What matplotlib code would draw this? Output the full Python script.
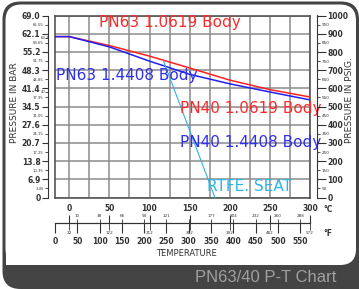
import matplotlib
matplotlib.use("Agg")
from matplotlib import pyplot as plt
from matplotlib.patches import FancyBboxPatch, Rectangle
import matplotlib.ticker as mtick

# ---- data ----
# PN63 / PN40 1.0619 body rating (bar)
temp_red = [-18, 0, 50, 100, 150, 200, 250, 300]
bar_red = [61.0, 61.0, 57.6, 53.6, 49.1, 44.5, 40.9, 38.1]
# PN63 / PN40 1.4408 body rating (bar)
temp_blue = [-18, 0, 50, 100, 150, 200, 250, 300]
bar_blue = [61.0, 61.0, 57.1, 51.7, 46.7, 43.1, 40.0, 37.0]
# RTFE seat limit
temp_seat = [117, 181.5]
bar_seat = [52.1, 0.0]

bar_major = [0, 6.9, 13.8, 20.7, 27.6, 34.5, 41.4, 48.3, 55.2, 62.1, 69.0]
bar_major_lbl = ["0", "6.9", "13.8", "20.7", "27.6", "34.5", "41.4", "48.3", "55.2", "62.1", "69.0"]
bar_minor = [3.45, 10.35, 17.25, 24.15, 31.05, 37.95, 44.85, 51.75, 58.65, 65.55]
bar_minor_lbl = ["3.45", "10.35", "17.25", "24.15", "31.05", "37.95", "44.85",
                 "51.75", "58.65", "65.55"]
# extra PN marks on the bar scale
bar_pn = [60.5, 40.0]
bar_pn_lbl = ["63.2", "40"]
psi_major = [0, 100, 200, 300, 400, 500, 600, 700, 800, 900, 1000]
psi_minor = [50, 150, 250, 350, 450, 550, 650, 750, 850, 950]

c_major = [0, 50, 100, 150, 200, 250, 300]
c_minor = [-17.8, 10, 37.8, 65.6, 93.3, 121.1, 148.9, 176.7, 204.4, 232.2, 260, 287.8]
c_minor_lbl = ["-18", "10", "38", "66", "93", "121", "", "177", "204", "232", "260", "288"]
f_major = [0, 50, 100, 150, 200, 250, 300, 350, 400, 450, 500, 550]
f_minor = [32, 122, 212, 302, 392, 482, 572]

labels = [
    ("PN63 1.0619 Body", 125.5, 66.5, "#ff2a2a"),
    ("PN63 1.4408 Body", 72, 46.4, "#2f2ff0"),
    ("PN40 1.0619 Body", 226, 33.9, "#ff2a2a"),
    ("PN40 1.4408 Body", 226, 20.7, "#2f2ff0"),
    ("RTFE. SEAT", 225, 4.0, "#2cb5e8"),
]

W, H = 359, 289
fig = plt.figure(figsize=(W / 100, H / 100), dpi=100)
fig.patch.set_facecolor("white")

# ---- frame ----
dk = "#444444"
fr = fig.dpi_scale_trans
fig.patches.append(FancyBboxPatch((0.025, 0.0), 3.565, 2.875, boxstyle="round,pad=0,rounding_size=0.18",
                                  fc=dk, ec="none", transform=fr, zorder=-10))
fig.patches.append(Rectangle((3.3, 0.0), 0.35, 0.3, fc=dk, ec="none", transform=fr, zorder=-10))
fig.patches.append(FancyBboxPatch((0.055, 0.24), 3.505, 2.605, boxstyle="round,pad=0,rounding_size=0.16",
                                  fc="white", ec="none", transform=fr, zorder=-9))
fig.patches.append(Rectangle((0.055, 0.24), 0.3, 0.3, fc="white", ec="none", transform=fr, zorder=-9))
fig.text(266 / W, 1 - 277 / H, "PN63/40 P-T Chart", color="#a0a0a0", fontsize=12,
         family="Liberation Sans", ha="center", va="center")

# ---- main plot ----
L, B, Wd, Ht = 55 / W, 1 - 197.5 / H, 255 / W, 182 / H
ax = fig.add_axes([L, B, Wd, Ht])
ax.set_xlim(-17.78, 300)
ax.set_ylim(0, 69)
ax.set_xticks(range(0, 301, 25))
ax.set_yticks(bar_major)
ax.tick_params(length=0, labelleft=False, labelbottom=False)
ax.grid(True, color="#8c8c8c", lw=1.1)
for s in ax.spines.values():
    s.set_color("#555555")
    s.set_linewidth(1.2)

ax.plot(temp_red, bar_red, color="#ff2020", lw=1.1, zorder=3)
ax.plot(temp_blue, bar_blue, color="#2020f0", lw=1.1, zorder=3)
ax.plot(temp_seat, bar_seat, color="#2cb5e8", lw=0.8, zorder=3)
for txt, x, y, c in labels:
    ax.text(x, y, txt, color=c, fontsize=11, ha="center", va="center", zorder=4)

tk = dict(color="#333333", labelcolor="#333333")

# left bar axis
axb = ax.twinx()
axb.set_ylim(0, 69)
axb.yaxis.tick_left()
for k in ["top", "right", "bottom"]:
    axb.spines[k].set_visible(False)
axb.spines["left"].set_position(("outward", 5))
axb.spines["left"].set_color("#333333")
axb.yaxis.set_major_locator(mtick.FixedLocator(bar_major))
axb.yaxis.set_major_formatter(mtick.FixedFormatter(bar_major_lbl))
axb.yaxis.set_minor_locator(mtick.FixedLocator(bar_minor + bar_pn))
axb.yaxis.set_minor_formatter(mtick.FixedFormatter(bar_minor_lbl + ["", ""]))
axb.tick_params(which="major", length=4.5, width=0.8, labelsize=5.5, pad=1, **tk)
axb.tick_params(which="minor", length=2.2, width=0.6, labelsize=2.7, pad=1, **tk)
for t in axb.get_yticklabels():
    t.set_fontweight("bold")
for v, s in zip(bar_pn, bar_pn_lbl):
    axb.annotate(s, xy=(0, v), xycoords=("axes fraction", "data"), xytext=(-10, 0),
                 textcoords="offset points", ha="left", va="center", fontsize=2.7, color="#333333")

# right psig axis
axp = ax.twinx()
axp.set_ylim(0, 69.0 / 0.0689476)
for k in ["top", "left", "bottom"]:
    axp.spines[k].set_visible(False)
axp.spines["right"].set_position(("outward", 5))
axp.spines["right"].set_color("#333333")
axp.yaxis.set_major_locator(mtick.FixedLocator(psi_major))
axp.yaxis.set_minor_locator(mtick.FixedLocator(psi_minor))
axp.yaxis.set_minor_formatter(mtick.FixedFormatter([str(v) for v in psi_minor]))
axp.tick_params(which="major", length=6.5, width=0.8, labelsize=5.5, pad=1, **tk)
axp.tick_params(which="minor", length=2.2, width=0.6, labelsize=3.0, pad=1, **tk)
for t in axp.get_yticklabels():
    t.set_fontweight("bold")

# temperature scales
yt = 1 - 223 / H
axc = fig.add_axes([L, yt, Wd, 1e-4])
axc.set_xlim(-17.78, 300)
axc.patch.set_visible(False)
axc.set_yticks([])
for k in ["left", "right", "bottom"]:
    axc.spines[k].set_visible(False)
axc.spines["top"].set_color("#333333")
axc.xaxis.tick_top()
axc.xaxis.set_major_locator(mtick.FixedLocator(c_major))
axc.xaxis.set_minor_locator(mtick.FixedLocator(c_minor))
axc.xaxis.set_minor_formatter(mtick.FixedFormatter(c_minor_lbl))
axc.tick_params(which="major", length=6, width=0.8, labelsize=5.5, pad=1, **tk)
axc.tick_params(which="minor", length=3, width=0.6, labelsize=3.0, pad=0.5, **tk)
for t in axc.get_xticklabels():
    t.set_fontweight("bold")

axf = fig.add_axes([L, yt, Wd, 1e-4])
axf.set_xlim(0, 572)
axf.patch.set_visible(False)
axf.set_yticks([])
for k in ["left", "right", "top"]:
    axf.spines[k].set_visible(False)
axf.spines["bottom"].set_color("#333333")
axf.xaxis.set_major_locator(mtick.FixedLocator(f_major))
axf.xaxis.set_minor_locator(mtick.FixedLocator(f_minor))
axf.xaxis.set_minor_formatter(mtick.FixedFormatter([str(v) for v in f_minor]))
axf.tick_params(which="major", length=7, width=0.8, labelsize=5.5, pad=3, **tk)
axf.tick_params(which="minor", length=5, width=0.6, labelsize=3.0, pad=1, **tk)
for t in axf.get_xticklabels():
    t.set_fontweight("bold")

fig.text(323 / W, 1 - 210 / H, "\u00b0C", fontsize=5.5, color="#333333", weight="bold", va="center")
fig.text(323 / W, 1 - 234 / H, "\u00b0F", fontsize=5.5, color="#333333", weight="bold", va="center")
fig.text(186 / W, 1 - 253 / H, "TEMPERATURE", fontsize=6, color="#333333", ha="center", va="center")
fig.text(15 / W, 1 - 103 / H, "PRESSURE IN BAR", fontsize=6.5, color="#333333", rotation=90,
         ha="center", va="center")
fig.text(349 / W, 1 - 100 / H, "PRESSURE IN PSIG.", fontsize=6.5, color="#333333", rotation=90,
         ha="center", va="center")

fig.savefig("out.png", dpi=100)
